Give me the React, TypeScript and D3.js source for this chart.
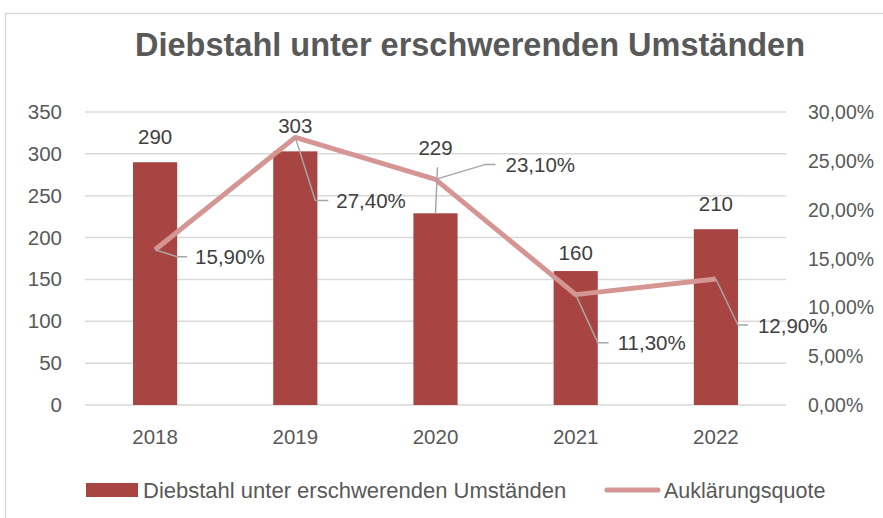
import React from "react";
import * as d3 from "d3";

const years = ["2018", "2019", "2020", "2021", "2022"];
const thefts = [290, 303, 229, 160, 210];
const clearance = [15.9, 27.4, 23.1, 11.3, 12.9];
const leftTicks = [0, 50, 100, 150, 200, 250, 300, 350];
const rightTicks = [0, 5, 10, 15, 20, 25, 30];
const barSeriesName = "Diebstahl unter erschwerenden Umständen";
const lineSeriesName = "Auklärungsquote";
const title = "Diebstahl unter erschwerenden Umständen";

// label placement (style)
const barLabelGap = [18, 18, 58, 11, 18];
const lineLabelLeader = [
  { mx: 22, my: 7, hx: 10, tx: 8 },
  { mx: 20, my: 63, hx: 13, tx: 8 },
  { mx: 50, my: -15, hx: 10, tx: 10 },
  { mx: 22, my: 48, hx: 11, tx: 9 },
  { mx: 22, my: 46, hx: 10, tx: 10 },
];

const W = 883;
const H = 518;
const left = 85;
const right = 786;
const top = 112;
const bottom = 405;
const font = "'Liberation Sans', Arial, sans-serif";
const barColor = "#A84542";
const lineColor = "#D49593";
const gridColor = "#D9D9D9";
const axisText = "#595959";
const labelText = "#404040";

const fmt = (v: number) => v.toFixed(2).replace(".", ",") + "%";

export default function App() {
  const x = d3.scaleBand().domain(years).range([left, right]).paddingInner(0.685).paddingOuter(0.3425);
  const xc = (y: string) => (x(y) as number) + x.bandwidth() / 2;
  const yL = d3.scaleLinear().domain([0, 350]).range([bottom, top]);
  const yR = d3.scaleLinear().domain([0, 30]).range([bottom, top]);
  const line = d3
    .line<number>()
    .x((_, i) => xc(years[i]))
    .y((d) => yR(d));

  return (
    <svg width={W} height={H} style={{ position: "absolute", left: 0, top: 0 }} fontFamily={font}>
      <rect x={0} y={0} width={W} height={H} fill="#fff" />
      <rect x={5.5} y={13.5} width={W + 20} height={H + 20} fill="none" stroke={gridColor} strokeWidth={1.5} />
      <text x={470} y={56} textAnchor="middle" fontSize={32.5} fontWeight="bold" fill={axisText}>
        {title}
      </text>
      {leftTicks.map((t) => (
        <g key={t}>
          <line x1={left} x2={right} y1={yL(t)} y2={yL(t)} stroke={gridColor} strokeWidth={1.5} />
          <text x={62} y={yL(t) + 7} textAnchor="end" fontSize={20.5} fill={axisText}>
            {t}
          </text>
        </g>
      ))}
      {rightTicks.map((t) => (
        <text key={t} x={808} y={yR(t) + 7} textAnchor="start" fontSize={19.5} fill={axisText}>
          {fmt(t)}
        </text>
      ))}
      {years.map((yr) => (
        <text key={yr} x={xc(yr)} y={444} textAnchor="middle" fontSize={20.5} fill={axisText}>
          {yr}
        </text>
      ))}
      {thefts.map((v, i) => (
        <rect key={i} x={x(years[i])} y={yL(v)} width={x.bandwidth()} height={bottom - yL(v)} fill={barColor} />
      ))}
      <path d={line(clearance) || ""} fill="none" stroke={lineColor} strokeWidth={5} strokeLinejoin="round" />
      {thefts.map((v, i) => {
        const cx = xc(years[i]);
        const by = yL(v);
        const base = by - barLabelGap[i];
        return (
          <g key={i}>
            {barLabelGap[i] > 30 && (
              <line x1={cx + 2} y1={base + 12} x2={cx} y2={by} stroke="#A6A6A6" strokeWidth={1.5} />
            )}
            <text x={cx} y={base} textAnchor="middle" fontSize={20.5} fill={labelText}>
              {v}
            </text>
          </g>
        );
      })}
      {clearance.map((v, i) => {
        const px = xc(years[i]);
        const py = yR(v);
        const L = lineLabelLeader[i];
        const mx = px + L.mx;
        const my = py + L.my;
        const hx = mx + L.hx;
        return (
          <g key={i}>
            <polyline points={`${px},${py} ${mx},${my} ${hx},${my}`} fill="none" stroke="#A6A6A6" strokeWidth={1.5} />
            <text x={hx + L.tx} y={my + 7.5} fontSize={20.5} fill={labelText}>
              {fmt(v)}
            </text>
          </g>
        );
      })}
      <rect x={86} y={483} width={52} height={14} fill={barColor} />
      <text x={143} y={498} fontSize={22} fill={axisText}>
        {barSeriesName}
      </text>
      <line x1={607} x2={658} y1={490} y2={490} stroke={lineColor} strokeWidth={5} strokeLinecap="round" />
      <text x={664} y={498} fontSize={21.5} fill={axisText}>
        {lineSeriesName}
      </text>
    </svg>
  );
}
